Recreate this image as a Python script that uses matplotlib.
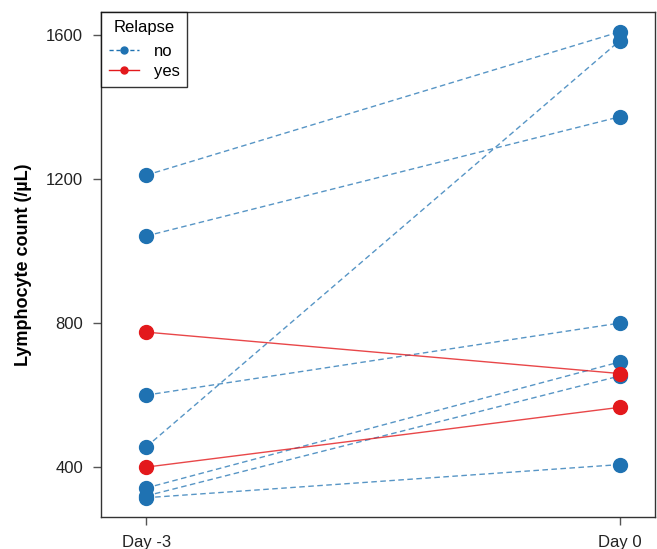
import matplotlib
matplotlib.use("Agg")
import matplotlib.pyplot as plt
from matplotlib.lines import Line2D

plt.rcParams['font.family'] = ['Liberation Sans', 'DejaVu Sans']

# paired lymphocyte counts (Day -3, Day 0)
days = ["Day -3", "Day 0"]
no_before = [1211, 1042, 600, 456, 342, 320, 315]
no_after = [1609, 1373, 800, 1584, 692, 653, 407]
yes_before = [775, 400]
yes_after = [660, 566]

blue = "#1F72B2"
red = "#E3191C"

fig = plt.figure(figsize=(6.57, 5.49), dpi=100)
ax = fig.add_axes([0.154, 0.058, 0.843, 0.92])

xs = [0, 1]
for a, b in zip(no_before, no_after):
    ax.plot(xs, [a, b], color=blue, linestyle=(0, (4, 2.5)), linewidth=1, alpha=0.75, zorder=2)
    ax.plot(xs, [a, b], 'o', color=blue, markersize=10, zorder=3)
for a, b in zip(yes_before, yes_after):
    ax.plot(xs, [a, b], color=red, linestyle='-', linewidth=1, alpha=0.8, zorder=2)
    ax.plot(xs, [a, b], 'o', color=red, markersize=10, zorder=4)

ax.set_xlim(-0.095, 1.075)
ax.set_ylim(261, 1664)
ax.set_xticks(xs)
ax.set_xticklabels(days)
ax.set_yticks([400, 800, 1200, 1600])
ax.tick_params(axis='both', direction='out', length=6, width=1, color='#555555',
               labelsize=12, labelcolor='#222222', pad=7)
ax.set_ylabel("Lymphocyte count (/µL)", fontsize=13, fontweight='bold', labelpad=10)
for s in ax.spines.values():
    s.set_color('#333333')
    s.set_linewidth(1)

handles = [
    Line2D([0], [0], color=blue, linestyle=(0, (3, 2)), marker='o', markersize=5, linewidth=1),
    Line2D([0], [0], color=red, linestyle='-', marker='o', markersize=5, linewidth=1),
]
leg = ax.legend(handles, ["no", "yes"], title="Relapse", loc='upper left',
                bbox_to_anchor=(0, 1), borderaxespad=0, fontsize=12, title_fontsize=12,
                frameon=True, fancybox=False, handlelength=1.8, handletextpad=0.9,
                borderpad=0.45, labelspacing=0.3)
leg._legend_box.sep = 7
leg.get_frame().set_edgecolor('black')
leg.get_frame().set_linewidth(1)

fig.savefig("out.png", dpi=100)
